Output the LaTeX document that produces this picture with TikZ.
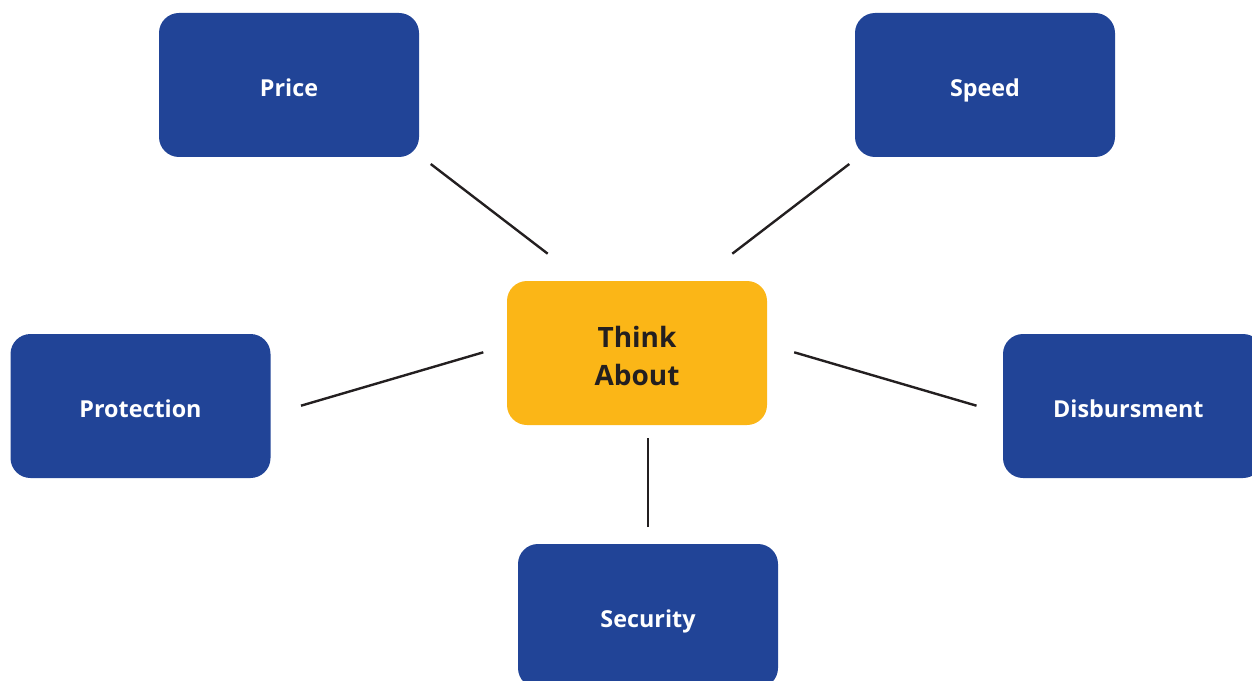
\documentclass[tikz,border=0pt]{standalone}
\usepackage{fontspec}
\setmainfont{Open Sans}
\definecolor{boxblue}{HTML}{214497}
\definecolor{boxyellow}{HTML}{FBB617}
\definecolor{inkdark}{HTML}{231F20}
\begin{document}
\begin{tikzpicture}[x=0.75pt,y=-0.75pt,
  bluebox/.style={rectangle, rounded corners=15pt, fill=boxblue, text=white,
    minimum width=195pt, minimum height=108pt, inner sep=0pt,
    text height=17.5pt, text depth=0pt,
    font=\fontsize{17.5}{20}\selectfont\bfseries},
  yellowbox/.style={rectangle, rounded corners=15pt, fill=boxyellow, text=inkdark,
    minimum width=195pt, minimum height=108pt, inner sep=0pt, align=center,
    font=\fontsize{21}{28.5}\selectfont\bfseries},
  link/.style={draw=inkdark, line width=1.8pt}]
\useasboundingbox (0,0) rectangle (1252,681);
\node[yellowbox] (think) at (637,353) {\rule{0pt}{21pt}Think\\About};
\node[bluebox] (price) at (289,85) {Price};
\node[bluebox] (speed) at (985,85) {Speed};
\node[bluebox] (protection) at (140.5,406) {Protection};
\node[bluebox] (disb) at (1133,406) {Disbursment\kern7pt};
\node[bluebox] (security) at (648,616) {Security};
\coordinate (pA) at (430.7,164); \coordinate (pB) at (547.7,253.7);
\coordinate (sA) at (849.3,164); \coordinate (sB) at (732.3,253.7);
\coordinate (prA) at (301,405.7); \coordinate (prB) at (483.3,352.3);
\coordinate (dA) at (976.5,405.7); \coordinate (dB) at (794.2,352.3);
\coordinate (seA) at (648,527); \coordinate (seB) at (648,438);
\draw[link] (pA) -- (pB);
\draw[link] (sA) -- (sB);
\draw[link] (prA) -- (prB);
\draw[link] (dA) -- (dB);
\draw[link] (seA) -- (seB);
\end{tikzpicture}
\end{document}
